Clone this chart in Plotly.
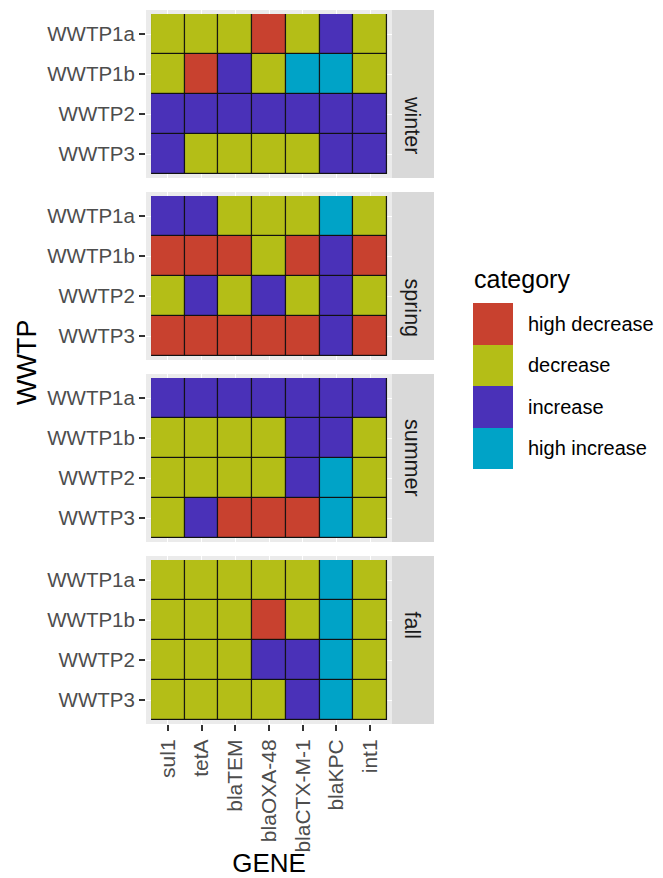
import plotly.graph_objects as go

genes = ["sul1", "tetA", "blaTEM", "blaOXA-48", "blaCTX-M-1", "blaKPC", "int1"]
plants = ["WWTP1a", "WWTP1b", "WWTP2", "WWTP3"]
seasons = ["winter", "spring", "summer", "fall"]
categories = ["high decrease", "decrease", "increase", "high increase"]
cat_colors = ["#C8412F", "#B4BE17", "#4A31B8", "#00A3C7"]

HD, D, I, HI = categories

winter = [
    [D, D, D, HD, D, I, D],
    [D, HD, I, D, HI, HI, D],
    [I, I, I, I, I, I, I],
    [I, D, D, D, D, I, I],
]
spring = [
    [I, I, D, D, D, HI, D],
    [HD, HD, HD, D, HD, I, HD],
    [D, I, D, I, D, I, D],
    [HD, HD, HD, HD, HD, I, HD],
]
summer = [
    [I, I, I, I, I, I, I],
    [D, D, D, D, I, I, D],
    [D, D, D, D, I, HI, D],
    [D, I, HD, HD, HD, HI, D],
]
fall = [
    [D, D, D, D, D, HI, D],
    [D, D, D, HD, D, HI, D],
    [D, D, D, I, I, HI, D],
    [D, D, D, D, I, HI, D],
]
season_data = [winter, spring, summer, fall]

W, H = 663, 878
FONT = "Liberation Sans, Arial, sans-serif"


def fx(p):
    return p / W


def fy(p):
    return 1 - p / H


# discrete colorscale
cs = []
n = len(categories)
for k, c in enumerate(cat_colors):
    cs.append([k / n, c])
    cs.append([(k + 1) / n, c])

fig = go.Figure()
layout = dict(
    width=W, height=H, margin=dict(l=0, r=0, t=0, b=0),
    paper_bgcolor="white", plot_bgcolor="#EBEBEB", showlegend=False,
    font=dict(family=FONT, color="#4D4D4D", size=20.5),
)
shapes = []
annotations = []

for i, (season, grid) in enumerate(zip(seasons, season_data)):
    top = 10 + 182 * i
    bot = top + 168
    sfx = "" if i == 0 else str(i + 1)
    xa, ya = "x" + sfx, "y" + sfx
    z = [[categories.index(v) for v in row] for row in grid]
    # black underlay for tile borders
    fig.add_trace(go.Heatmap(
        x=genes, y=plants, z=[[0] * len(genes) for _ in plants],
        colorscale=[[0, "#111111"], [1, "#111111"]], showscale=False,
        hoverinfo="skip", xaxis=xa, yaxis=ya))
    fig.add_trace(go.Heatmap(
        x=genes, y=plants, z=z, zmin=-0.5, zmax=n - 0.5, colorscale=cs,
        showscale=False, xgap=1.2, ygap=1.2, xaxis=xa, yaxis=ya,
        customdata=grid, hovertemplate="%{x} %{y}: %{customdata}<extra></extra>"))
    layout["xaxis" + sfx] = dict(
        domain=[fx(146), fx(392)], range=[-0.65, len(genes) - 0.35],
        type="category", categoryarray=genes, anchor=ya,
        showgrid=True, gridcolor="white", gridwidth=1, zeroline=False,
        ticks="outside" if i == 3 else "", ticklen=6, tickwidth=1.8, tickcolor="#333333",
        showticklabels=(i == 3), tickangle=-90,
        tickfont=dict(family=FONT, size=21, color="#4D4D4D"),
        title=dict(text="GENE", font=dict(family=FONT, size=26, color="black"), standoff=6) if i == 3 else None,
    )
    layout["yaxis" + sfx] = dict(
        domain=[fy(bot), fy(top)], range=[len(plants) - 0.4, -0.6],
        type="category", categoryarray=plants, anchor=xa,
        showgrid=True, gridcolor="white", gridwidth=1, zeroline=False,
        ticks="outside", ticklen=6, tickwidth=1.8, tickcolor="#333333",
        tickfont=dict(family=FONT, size=20.5, color="#4D4D4D"),
    )
    shapes.append(dict(type="rect", xref="paper", yref="paper",
                       x0=fx(392), x1=fx(434), y0=fy(bot), y1=fy(top),
                       fillcolor="#D9D9D9", line=dict(width=0), layer="below"))
    annotations.append(dict(text=season, xref="paper", yref="paper",
                            x=fx(412), y=fy((top + bot) / 2), showarrow=False,
                            textangle=90, font=dict(family=FONT, size=21.5, color="#1A1A1A")))

# legend as a small heatmap
li = len(seasons) + 1
lsfx = str(li)
fig.add_trace(go.Heatmap(
    x=[0], y=categories, z=[[k] for k in range(n)], zmin=-0.5, zmax=n - 0.5,
    colorscale=cs, showscale=False, hoverinfo="skip",
    xaxis="x" + lsfx, yaxis="y" + lsfx))
layout["xaxis" + lsfx] = dict(domain=[fx(473), fx(513)], range=[-0.5, 0.5],
                              visible=False, anchor="y" + lsfx)
layout["yaxis" + lsfx] = dict(domain=[fy(469), fy(303)], range=[n - 0.5, -0.5],
                              type="category", categoryarray=categories,
                              anchor="x" + lsfx, side="right", showgrid=False,
                              zeroline=False, ticks="", ticklabelstandoff=14,
                              tickfont=dict(family=FONT, size=20, color="black"))
annotations.append(dict(text="category", xref="paper", yref="paper",
                        x=fx(472), y=fy(279), xanchor="left", yanchor="middle",
                        showarrow=False, font=dict(family=FONT, size=25, color="black")))
annotations.append(dict(text="WWTP", xref="paper", yref="paper",
                        x=fx(10), y=fy(363), xanchor="left", yanchor="middle",
                        showarrow=False, textangle=-90,
                        font=dict(family=FONT, size=27, color="black")))

layout["shapes"] = shapes
layout["annotations"] = annotations
fig.update_layout(**layout)
fig.write_html("out.html")
